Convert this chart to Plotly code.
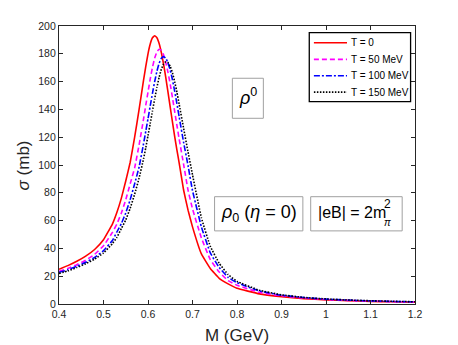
import plotly.graph_objects as go

# ---------------- data ----------------
M_GeV = [0.40, 0.42, 0.44, 0.46, 0.48, 0.50, 0.52, 0.53, 0.54, 0.55, 0.56, 0.57, 0.58, 0.59,
         0.595, 0.60, 0.605, 0.61, 0.615, 0.62, 0.625, 0.63, 0.635, 0.64, 0.645, 0.65, 0.655,
         0.66, 0.665, 0.67, 0.68, 0.69, 0.70, 0.72, 0.74, 0.76, 0.78, 0.80, 0.85, 0.90, 0.95,
         1.00, 1.05, 1.10, 1.15, 1.20]

sigma_T0 = [25, 27.6, 30.7, 34.4, 39.2, 46.2, 57.5, 65.8, 76, 88.5, 102, 120, 140, 161,
            171, 180, 187, 191.5, 193, 191.6, 187.4, 180.9, 172.5, 162.8, 152.2, 141.5, 130.8,
            120.5, 110.7, 101.6, 82, 67.5, 55.5, 36, 25.5, 18.5, 14.5, 11.3, 7.3, 5.3, 3.9,
            3.0, 2.4, 1.9, 1.6, 1.3]

sigma_T50 = [23.5, 25.6, 28.3, 31.5, 35.7, 41.9, 51.5, 57.5, 65.3, 75, 86.5, 97.9, 114.5, 133.1,
             143, 152.5, 161.9, 170.2, 176.9, 181.4, 183.3, 182.5, 179.2, 173.8, 166.5, 158, 148.4,
             138.4, 128.5, 118.8, 100.5, 81.9, 68.5, 47.5, 31.9, 23, 16.8, 13.5, 8.4, 5.9, 4.3,
             3.2, 2.55, 2.05, 1.7, 1.4]

sigma_T100 = [22.8, 24.6, 27.1, 30, 33.5, 38.4, 45.7, 51.8, 57.8, 65.5, 75.1, 86.5, 98.6, 115.3,
              124.3, 133.3, 142.5, 151.5, 160, 167.4, 173.2, 176.8, 178, 176.8, 173.3, 168.2, 161.3,
              153, 144, 134.7, 116.3, 99.6, 81.6, 55.5, 36.8, 26.2, 19.2, 15.3, 9.4, 6.35, 4.65,
              3.5, 2.8, 2.25, 1.85, 1.55]

sigma_T150 = [22, 23.8, 26.2, 29, 32.3, 36.7, 43.4, 47.9, 54.2, 60.5, 68.9, 79, 90.6, 104.4,
              112.4, 121.2, 129.9, 138.8, 147.5, 155.8, 163.1, 168.9, 172.7, 174.2, 173.7, 170.9, 166.3,
              159.9, 152.3, 143.8, 126.4, 109.3, 93, 62, 41.5, 29.3, 21.2, 16.3, 9.9, 6.6, 4.75,
              3.65, 2.9, 2.35, 1.95, 1.6]

series_names = ["T = 0", "T = 50 MeV", "T = 100 MeV", "T = 150 MeV"]
series_colors = ["#ff0000", "#ff00ff", "#0000ff", "#000000"]
series_dash = ["solid", "5px,3px", "6px,2px,2px,2px", "1.5px,1.5px"]

x_ticks = [0.4, 0.5, 0.6, 0.7, 0.8, 0.9, 1.0, 1.1, 1.2]
x_tick_labels = ["0.4", "0.5", "0.6", "0.7", "0.8", "0.9", "1", "1.1", "1.2"]
y_ticks = [0, 20, 40, 60, 80, 100, 120, 140, 160, 180, 200]

# ---------------- figure ----------------
FONT = "Liberation Sans, Arial, Helvetica, sans-serif"
AX = "#262626"

fig = go.Figure()
for ys, name, col, dash in zip([sigma_T0, sigma_T50, sigma_T100, sigma_T150],
                               series_names, series_colors, series_dash):
    fig.add_trace(go.Scatter(x=M_GeV, y=ys, mode="lines", name=name, showlegend=False,
                             line=dict(color=col, dash=dash, width=1.6, shape="spline",
                                       smoothing=0.3)))

axis_common = dict(showline=True, linecolor=AX, linewidth=1.3, mirror="ticks",
                   ticks="inside", ticklen=4, tickwidth=1, tickcolor=AX,
                   showgrid=False, zeroline=False, automargin=False,
                   tickfont=dict(family=FONT, size=10.5, color=AX))

fig.update_xaxes(range=[0.4, 1.2], tickvals=x_ticks, ticktext=x_tick_labels,
                 title=dict(text="M (GeV)", font=dict(family=FONT, size=17, color=AX), standoff=12),
                 **axis_common)
fig.update_yaxes(range=[0, 200], tickvals=y_ticks, **axis_common)

# y-axis title placed as a rotated annotation
fig.add_annotation(xref="paper", yref="paper", x=-0.100, y=0.5, text="<i>σ</i> (mb)",
                   textangle=-90, showarrow=False,
                   font=dict(family=FONT, size=17, color=AX), xanchor="center", yanchor="middle")

# legend drawn as a boxed key in the upper right
fig.add_shape(type="rect", xref="paper", yref="paper", x0=0.703, x1=0.9876, y0=0.728, y1=0.976,
              line=dict(color="#000000", width=1.3), fillcolor="white", layer="above")
legend_rows = [0.940, 0.880, 0.821, 0.762]
for name, col, dash, yr in zip(series_names, series_colors, series_dash, legend_rows):
    fig.add_shape(type="line", xref="paper", yref="paper", x0=0.716, x1=0.809, y0=yr, y1=yr,
                  line=dict(color=col, dash=dash, width=1.6), layer="above")
    fig.add_annotation(xref="paper", yref="paper", x=0.814, y=yr, text=name, showarrow=False,
                       font=dict(family=FONT, size=10, color="#000000"),
                       xanchor="left", yanchor="middle")

# text boxes (paper coordinates)
box_line = dict(color="#a0a0a0", width=1)
fig.add_shape(type="rect", xref="paper", yref="paper", x0=0.487, x1=0.574, y0=0.668, y1=0.812,
              line=box_line, fillcolor="white", layer="above")
fig.add_shape(type="rect", xref="paper", yref="paper", x0=0.437, x1=0.685, y0=0.263, y1=0.386,
              line=box_line, fillcolor="white", layer="above")
fig.add_shape(type="rect", xref="paper", yref="paper", x0=0.707, x1=0.964, y0=0.263, y1=0.386,
              line=box_line, fillcolor="white", layer="above")

txt = dict(family=FONT, size=18, color="#000000")
fig.add_annotation(xref="paper", yref="paper", x=0.530, y=0.745, text="<i>ρ</i><sup>0</sup>",
                   showarrow=False, font=txt, xanchor="center", yanchor="middle")
fig.add_annotation(xref="paper", yref="paper", x=0.561, y=0.327, text="<i>ρ</i><sub>0</sub> (<i>η</i> = 0)",
                   showarrow=False, font=txt, xanchor="center", yanchor="middle")
fig.add_annotation(xref="paper", yref="paper", x=0.722, y=0.330, text="|eB| = 2m",
                   showarrow=False, font=dict(family=FONT, size=16, color="#000000"),
                   xanchor="left", yanchor="middle")
fig.add_annotation(xref="paper", yref="paper", x=0.907, y=0.358, text="2",
                   showarrow=False, font=dict(family=FONT, size=12, color="#000000"),
                   xanchor="left", yanchor="middle")
fig.add_annotation(xref="paper", yref="paper", x=0.907, y=0.293, text="<i>π</i>",
                   showarrow=False, font=dict(family=FONT, size=10, color="#000000"),
                   xanchor="left", yanchor="middle")

fig.update_layout(
    width=458, height=345,
    margin=dict(l=59, r=43, t=26, b=41),
    paper_bgcolor="white", plot_bgcolor="white",
    showlegend=False,
)

fig.write_html("out.html", config={"displayModeBar": False},
               post_script="document.body.style.margin='0';document.body.style.overflow='hidden';")
